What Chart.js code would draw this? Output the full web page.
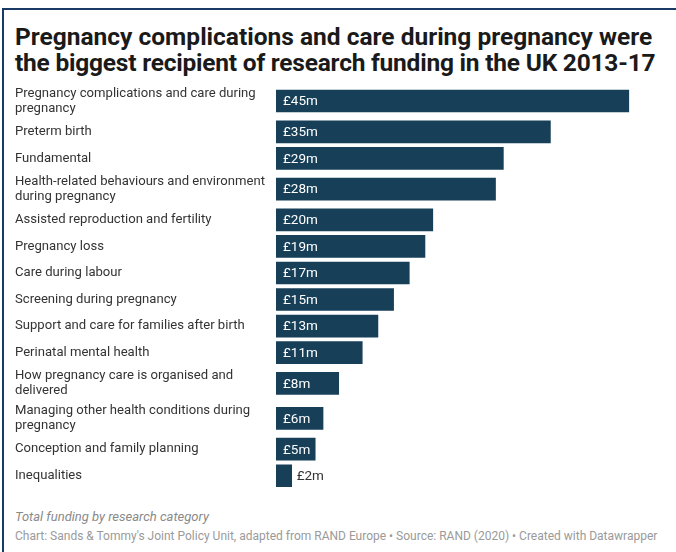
<!DOCTYPE html>
<html><head><meta charset="utf-8">
<script src="https://cdn.jsdelivr.net/npm/chart.js@4/dist/chart.umd.min.js"></script>
<style>
html,body{margin:0;padding:0;background:#fff;}
body{width:676px;height:552px;position:relative;overflow:hidden;font-family:Roboto,"Liberation Sans",sans-serif;}
#frame{position:absolute;left:2px;top:8px;right:0;bottom:0;border-top:2px solid #1a3a66;border-left:2px solid #1a3a66;}
#title{position:absolute;left:15px;top:24px;margin:0;font-size:24.5px;line-height:26px;font-weight:700;color:#1a1a1a;white-space:nowrap;}
#title span{letter-spacing:-0.22px;}
#wrap{position:absolute;left:0;top:80px;width:676px;height:415px;}
#note{position:absolute;left:15px;top:509px;font-size:13px;font-style:italic;color:#8a8a8a;white-space:nowrap;}
#source{position:absolute;left:15px;top:529px;font-size:12px;color:#9a9a9a;white-space:nowrap;}
</style></head>
<body>
<div id="frame"></div>
<h1 id="title">Pregnancy complications and care during pregnancy were<br><span>the biggest recipient of research funding in the UK 2013-17</span></h1>
<div id="wrap"><canvas id="c"></canvas></div>
<div id="note">Total funding by research category</div>
<div id="source">Chart: Sands &amp; Tommy's Joint Policy Unit, adapted from RAND Europe • Source: RAND (2020) • Created with Datawrapper</div>
<script>
const categories = [
  ["Pregnancy complications and care during", "pregnancy"],
  "Preterm birth",
  "Fundamental",
  ["Health-related behaviours and environment", "during pregnancy"],
  "Assisted reproduction and fertility",
  "Pregnancy loss",
  "Care during labour",
  "Screening during pregnancy",
  "Support and care for families after birth",
  "Perinatal mental health",
  ["How pregnancy care is organised and", "delivered"],
  ["Managing other health conditions during", "pregnancy"],
  "Conception and family planning",
  "Inequalities"
];
const fundingMillions = [45, 35, 29, 28, 20, 19, 17, 15, 13, 11, 8, 6, 5, 2];
const valuePrefix = "£";
const valueSuffix = "m";

// Row slots: two-line labels get a taller row, like the original layout
const rowUnits = categories.map(c => Array.isArray(c) ? 1.32 : 1);
const rowCentres = [];
let acc = 0;
rowUnits.forEach(u => { rowCentres.push(acc + u / 2); acc += u; });
const totalUnits = acc;

const valueLabels = {
  id: 'valueLabels',
  afterDatasetsDraw(chart) {
    const ctx = chart.ctx;
    const meta = chart.getDatasetMeta(0);
    ctx.save();
    ctx.font = '13.5px Roboto';
    ctx.textBaseline = 'middle';
    ctx.textAlign = 'left';
    meta.data.forEach((bar, i) => {
      const txt = valuePrefix + fundingMillions[i] + valueSuffix;
      const w = ctx.measureText(txt).width;
      const inside = (bar.x - bar.base) > w + 8;
      ctx.fillStyle = inside ? '#ffffff' : '#333333';
      ctx.fillText(txt, inside ? bar.base + 7 : bar.x + 5, bar.y + 1);
    });
    ctx.restore();
  }
};

new Chart(document.getElementById('c'), {
  type: 'bar',
  data: {
    datasets: [{
      data: fundingMillions.map((v, i) => ({ x: v, y: rowCentres[i] })),
      backgroundColor: '#173f58',
      barThickness: 22,
      borderWidth: 0
    }]
  },
  options: {
    indexAxis: 'y',
    responsive: true,
    maintainAspectRatio: false,
    animation: false,
    layout: { padding: { left: 15, right: 8, top: 3.5, bottom: 6 } },
    plugins: { legend: { display: false }, tooltip: { enabled: false } },
    scales: {
      x: { type: 'linear', min: 0, max: 50, display: false },
      y: {
        type: 'linear', min: 0, max: totalUnits, reverse: true, offset: false,
        afterBuildTicks: s => { s.ticks = rowCentres.map(v => ({ value: v })); },
        afterFit: s => { s.width = 261; s.paddingTop = 0; s.paddingBottom = 0; },
        grid: { display: false },
        border: { display: false },
        ticks: {
          autoSkip: false,
          crossAlign: 'far',
          color: '#333333',
          font: { family: 'Roboto', size: 13.1, lineHeight: 1.1 },
          callback: (v, i) => categories[i]
        }
      }
    }
  },
  plugins: [valueLabels]
});
</script>
</body></html>
